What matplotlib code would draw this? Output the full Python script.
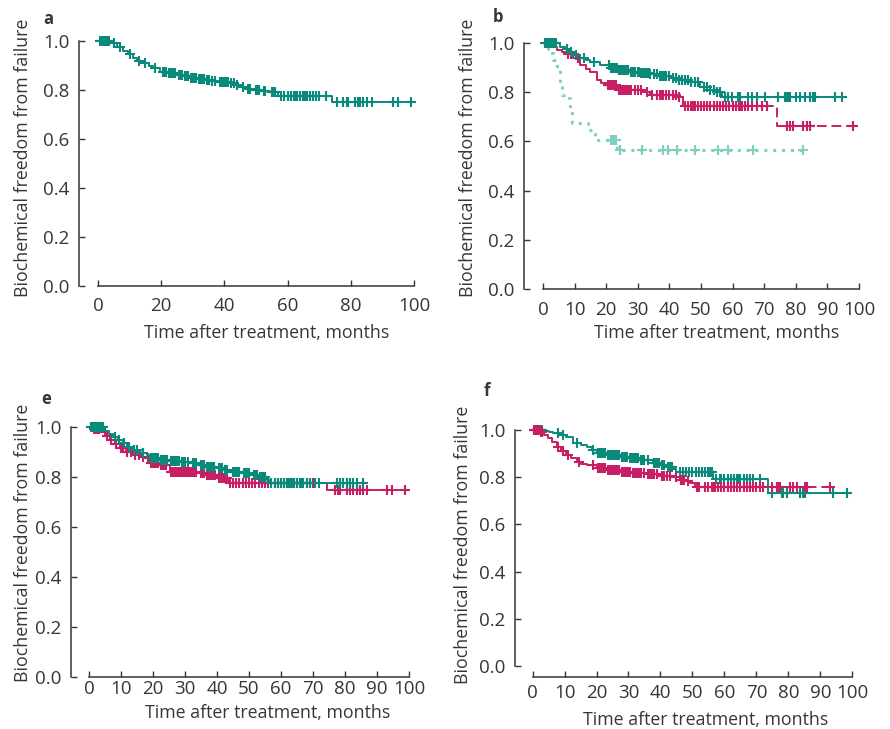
import numpy as np
import matplotlib
matplotlib.use("Agg")
import matplotlib.pyplot as plt

plt.rcParams['font.family'] = ['Open Sans', 'DejaVu Sans']

TEAL = '#0a8a7a'
MAG = '#c81e64'
LTEAL = '#7fd0c0'
TXT = '#363636'

# ---------------- data ----------------
# panel a : single curve
a_t = [4.3, 6, 8, 9.5, 11, 12.5, 14.3, 16, 17.5, 19.6, 22, 25, 27, 29, 31.5, 34, 35.5,
       38, 41.8, 43.5, 45, 47, 49, 52, 54.4, 57, 74.2]
a_s = [0.99, 0.975, 0.96, 0.945, 0.932, 0.92, 0.91, 0.90, 0.889, 0.875, 0.868, 0.862,
       0.856, 0.85, 0.845, 0.84, 0.835, 0.832, 0.828, 0.82, 0.812, 0.806, 0.80, 0.795,
       0.79, 0.777, 0.752]
a_end = 99.2
a_cens = [0.5, 1, 1.5, 2, 2.5, 3, 3.5, 5, 7, 10, 13, 15, 18, 20.5, 21, 21.5, 22.5, 23,
          23.5, 24, 24.5, 25.5, 26, 26.5, 27.5, 28, 28.5, 29.5, 30, 30.5, 31, 32, 32.5,
          33, 33.5, 34.5, 35, 36, 37, 38.5, 39, 39.5, 40, 40.5, 41, 42, 43, 44, 46,
          47.5, 48, 50, 50.5, 51, 52.5, 53, 55, 55.5, 56, 58, 59, 60, 61, 62, 62.5, 63,
          64, 65, 65.5, 66, 67, 68, 69, 70, 72, 75.5, 77.6, 78.7, 79, 81.3, 82.4, 83,
          84, 85, 86.6, 93.5, 95, 99.2]

# panel b : three curves
b_teal_t = [5.4, 7, 8.5, 10, 11.7, 13.5, 15, 18, 21.2, 24, 27.5, 31, 34, 37, 40.2, 43,
            46.5, 49.7, 52.8, 55, 56.5]
b_teal_s = [0.985, 0.975, 0.965, 0.95, 0.938, 0.93, 0.924, 0.91, 0.90, 0.892, 0.883,
            0.878, 0.873, 0.865, 0.857, 0.85, 0.843, 0.822, 0.809, 0.80, 0.78]
b_teal_end = 94.5
b_teal_cens = [0.5, 1, 1.5, 2, 2.5, 3, 3.5, 4, 7.5, 9, 10.5, 13, 16, 21, 21.5, 22, 22.5,
               23, 23.5, 24, 24.5, 25, 25.5, 26, 26.5, 27, 28, 28.5, 29, 30, 30.5, 31,
               31.5, 32, 32.5, 33, 33.5, 34, 35, 36, 37, 37.5, 38, 38.5, 39, 40, 41, 42,
               43, 44, 45, 46, 47, 48, 49, 51, 52, 53, 54, 55, 56, 57.6, 58.6, 59.7,
               61.8, 62.3, 64.9, 66, 67.6, 70.2, 74.4, 76.5, 77.1, 77.6, 78.1, 80.2,
               81.3, 82.9, 84.5, 85.5, 86.1, 92.4, 94.5]

b_mag_t = [2.5, 4.3, 6, 7.5, 9.6, 11.7, 13.5, 14.9, 17, 18.5, 20.2, 23.3, 31.7, 33.9,
           42.3, 44.4, 74]
b_mag_s = [0.985, 0.972, 0.962, 0.955, 0.938, 0.911, 0.895, 0.883, 0.85, 0.838, 0.829,
           0.809, 0.802, 0.789, 0.782, 0.744, 0.663]
b_mag_end = 98.7
b_mag_cens = [8, 9, 11, 20.5, 21, 21.5, 22, 22.5, 23, 24, 24.5, 25, 25.5, 26, 26.5, 27,
              27.5, 28, 29, 30, 31, 33, 34.5, 36, 37, 37.5, 38, 39, 40, 41, 42, 43, 45,
              46, 47, 47.5, 48, 49, 50, 51, 52, 53, 54, 55, 56, 57, 58, 59, 60, 61, 62,
              62.5, 63, 64, 65, 66, 67.6, 69.2, 70.8, 77.1, 78.1, 79.2, 82.3, 83.4,
              84.5, 98.2]

b_lt_t = [1.7, 2.2, 3.3, 4.3, 5.4, 5.9, 7.5, 8.5, 9.1, 14.3, 16.5, 23.5]
b_lt_s = [0.97, 0.96, 0.93, 0.89, 0.83, 0.79, 0.775, 0.714, 0.675, 0.646, 0.606, 0.565]
b_lt_end = 83.4
b_lt_cens = [21.5, 22, 22.5, 23, 24.4, 31.2, 38.1, 39.7, 42.3, 48.1, 55.5, 58.6, 66.5,
             82.4]

# panel e : two curves
e_teal_t = [5, 6.3, 7.6, 9, 10.7, 12, 13.8, 16, 18, 19, 22, 25, 28.4, 32, 34, 36.8, 40,
            42, 44, 48, 51.3, 53, 55.5, 56.6]
e_teal_s = [0.985, 0.972, 0.961, 0.948, 0.935, 0.922, 0.91, 0.898, 0.888, 0.875, 0.87,
            0.866, 0.861, 0.855, 0.848, 0.841, 0.835, 0.828, 0.821, 0.815, 0.808, 0.80,
            0.788, 0.776]
e_teal_end = 86
e_teal_cens = [0.5, 1, 1.5, 2, 2.5, 3, 3.5, 4, 4.5, 8, 9.5, 11, 12.5, 14, 15, 17, 19.5,
               20, 20.5, 21, 21.5, 22.5, 23, 23.5, 24, 24.5, 25.5, 26, 26.5, 27, 27.5,
               28, 29, 29.5, 30, 31, 32.5, 33, 33.5, 35, 35.5, 36, 37, 37.5, 38, 38.5,
               39, 40.5, 41, 41.5, 42.5, 43, 45, 45.5, 46, 46.5, 47, 48.5, 49, 49.5, 50,
               51.5, 52, 52.5, 53.5, 54, 54.5, 55, 57, 58, 59, 60, 61, 62, 62.5, 63,
               63.5, 64, 65, 66, 66.5, 67, 68, 69, 70.5, 72, 77.4, 78.4, 79.5, 80.5,
               81.6, 82.6, 83.6, 85.7]

e_mag_t = [1, 3.4, 5, 6.6, 8, 9.7, 11.5, 13.8, 16, 18, 19, 22, 24.3, 25.3, 34, 36.8, 40,
           43.5, 74.3]
e_mag_s = [0.993, 0.981, 0.965, 0.948, 0.932, 0.915, 0.90, 0.888, 0.882, 0.875, 0.855,
           0.85, 0.848, 0.821, 0.815, 0.808, 0.795, 0.775, 0.748]
e_mag_end = 99.3
e_mag_cens = [0.5, 1.5, 2, 2.5, 3, 5.5, 7, 8.5, 10, 10.5, 12, 13, 14.5, 15.5, 17, 18.5,
              19.5, 20, 20.5, 21, 21.5, 22.5, 23, 23.5, 24, 25.5, 26, 26.5, 27, 27.5,
              28, 28.5, 29, 29.5, 30, 30.5, 31, 31.5, 32, 32.5, 33, 33.5, 35, 35.5, 36,
              37, 37.5, 38, 38.5, 39, 39.5, 40.5, 41, 41.5, 42, 42.5, 43, 44, 45, 46,
              47, 48, 49, 50, 51, 52, 53, 54, 55, 56, 58, 59, 60, 61, 62, 63, 64, 65,
              66, 67, 68, 69, 70, 76.9, 77.9, 78.4, 80.5, 81.6, 82.6, 83.6, 84.7, 85.7,
              86.8, 93, 94.6, 98.8]

# panel f : two curves
f_teal_t = [3.3, 5, 6.4, 8.5, 10.6, 12.7, 15, 16.9, 18.5, 20, 23, 27.3, 30, 33.6, 37.7,
            40, 42, 44, 45, 56.5, 73.7]
f_teal_s = [0.995, 0.99, 0.989, 0.98, 0.972, 0.946, 0.937, 0.929, 0.915, 0.904, 0.896,
            0.887, 0.88, 0.873, 0.859, 0.85, 0.842, 0.833, 0.824, 0.791, 0.732]
f_teal_end = 98.7
f_teal_cens = [0.5, 1, 1.5, 2, 2.5, 3, 8, 9.5, 14, 19, 20.5, 21, 21.5, 22, 22.5, 23.5,
               24, 24.5, 25, 25.5, 26, 26.5, 27, 28, 28.5, 29, 29.5, 30.5, 31, 31.5, 32,
               32.5, 33, 34, 34.5, 35, 36, 38, 38.5, 39, 39.5, 40.5, 41, 42.5, 43, 43.5,
               46, 47, 48, 49, 50, 51, 52, 53, 54, 55, 55.5, 56, 57.5, 58.5, 59, 60, 61,
               62, 63, 64, 64.5, 65, 66, 67, 68, 69, 71, 74.8, 77.9, 78.4, 79.5, 83.6,
               84.7, 85.2, 94.1, 98.2]

f_mag_t = [2.5, 3.5, 4.9, 6, 7.5, 9, 10.6, 12, 13.8, 15, 16.9, 20, 23, 27.3, 31, 35.7,
           40, 44, 46.1, 48, 49.2, 50.8]
f_mag_s = [0.99, 0.98, 0.965, 0.95, 0.929, 0.912, 0.894, 0.88, 0.866, 0.858, 0.852,
           0.838, 0.83, 0.823, 0.818, 0.812, 0.807, 0.802, 0.788, 0.782, 0.774, 0.76]
f_mag_end = 93
f_mag_cens = [0.5, 1, 1.5, 2, 2.5, 3, 8, 9.5, 11, 14.5, 19, 20.5, 21, 21.5, 22, 22.5,
              23.5, 24, 24.5, 25, 25.5, 26, 26.5, 27, 28, 28.5, 29, 29.5, 30, 30.5,
              31.5, 32, 32.5, 33, 33.5, 34, 35, 36, 36.5, 37, 37.5, 38, 39, 40.5, 41,
              42, 43, 45, 46.5, 47, 47.5, 48.5, 51.5, 52, 54, 55, 56, 56.5, 57, 58, 59,
              60, 61, 62, 63, 64, 65, 66, 67, 68, 69, 70, 71, 72, 74.8, 76.4, 77, 77.5,
              80.6, 81.5, 82.7, 85.2, 85.7, 93]

YTICKS = [0.0, 0.2, 0.4, 0.6, 0.8, 1.0]
XTICKS_A = [0, 20, 40, 60, 80, 100]
XTICKS_B = [0, 10, 20, 30, 40, 50, 60, 70, 80, 90, 100]
YLABEL = 'Biochemical freedom from failure'
XLABEL = 'Time after treatment, months'

# ---------------- drawing ----------------
W, H = 890, 729
fig = plt.figure(figsize=(W / 100, H / 100), dpi=100)


def ax_px(left, right, bottom, top):
    return fig.add_axes([left / W, 1 - bottom / H, (right - left) / W, (bottom - top) / H])


def step_val(t_ev, s_ev, t):
    idx = np.searchsorted(np.asarray(t_ev), np.asarray(t), side='right')
    return np.asarray([1.0] + list(s_ev))[idx]


def km(ax, t_ev, s_ev, end, cens, color, lw=1.4, dotted=False, dash_from=None,
       dashes=(5, 2.5)):
    xs = np.array([0.0] + list(t_ev) + [end])
    ys = np.array([1.0] + list(s_ev) + [s_ev[-1]])
    if dotted:
        ax.plot(xs, ys, drawstyle='steps-post', color=color, lw=2.2,
                dashes=(1.0, 1.9), dash_capstyle='butt', clip_on=False)
    elif dash_from is None:
        ax.plot(xs, ys, drawstyle='steps-post', color=color, lw=lw, clip_on=False)
    else:
        v = step_val(t_ev, s_ev, dash_from)
        m = xs < dash_from
        x1 = np.append(xs[m], dash_from)
        y1 = np.append(ys[m], v)
        ax.plot(x1, y1, drawstyle='steps-post', color=color, lw=lw, clip_on=False)
        m2 = xs > dash_from
        x2 = np.insert(xs[m2], 0, dash_from)
        y2 = np.insert(ys[m2], 0, v)
        ax.plot(x2, y2, drawstyle='steps-post', color=color, lw=lw,
                dashes=dashes, clip_on=False)
    cy = step_val(t_ev, s_ev, cens)
    ax.plot(cens, cy, ls='none', marker='+', ms=7, mew=1.5, color=color, clip_on=False)


def style(ax, xticks, xmin, xpad, outward=0):
    for s in ['top', 'right']:
        ax.spines[s].set_visible(False)
    for s in ['left', 'bottom']:
        ax.spines[s].set_color(TXT)
        ax.spines[s].set_linewidth(1.1)
    ax.spines['left'].set_bounds(0, 1)
    ax.spines['bottom'].set_bounds(0, 100)
    if outward:
        ax.spines['bottom'].set_position(('outward', outward))
    ax.set_xlim(xmin, 101)
    ax.set_ylim(0, 1.01)
    ax.set_yticks(YTICKS)
    ax.set_yticklabels(['%.1f' % v for v in YTICKS])
    ax.set_xticks(xticks)
    ax.set_xticklabels([str(v) for v in xticks])
    ax.tick_params(direction='in', length=4, width=1.0, color=TXT,
                   labelsize=13.5, labelcolor=TXT)
    ax.tick_params(axis='y', pad=7)
    ax.tick_params(axis='x', pad=xpad)
    ax.patch.set_alpha(0)


# panel a
axa = ax_px(79, 98 + 101 * 3.16, 286, 286 - 1.01 * 245)
km(axa, a_t, a_s, a_end, a_cens, TEAL)
style(axa, XTICKS_A, -6, 8)

# panel b
axb = ax_px(524, 543 + 101 * 3.16, 289, 289 - 1.01 * 246)
km(axb, b_lt_t, b_lt_s, b_lt_end, b_lt_cens, LTEAL, dotted=True)
km(axb, b_mag_t, b_mag_s, b_mag_end, b_mag_cens, MAG, dash_from=70)
km(axb, b_teal_t, b_teal_s, b_teal_end, b_teal_cens, TEAL)
style(axb, XTICKS_B, -6, 9)

# panel e
axe = ax_px(71, 89 + 101 * 3.2, 677, 677 - 1.01 * 250)
km(axe, e_mag_t, e_mag_s, e_mag_end, e_mag_cens, MAG)
km(axe, e_teal_t, e_teal_s, e_teal_end, e_teal_cens, TEAL)
style(axe, XTICKS_B, -5.6, 2.5)

# panel f
axf = ax_px(515, 532.7 + 101 * 3.196, 666, 666 - 1.01 * 236)
km(axf, f_teal_t, f_teal_s, f_teal_end, f_teal_cens, TEAL)
km(axf, f_mag_t, f_mag_s, f_mag_end, f_mag_cens, MAG, dash_from=72)
style(axf, XTICKS_B, -5.5, 5, outward=8)

# labels (positions in pixels)
def ftxt(x, y, s, **kw):
    fig.text(x / W, 1 - y / H, s, color=TXT, **kw)

for (x, y) in [(23, 158), (468, 158), (23, 543), (463, 545)]:
    ftxt(x, y, YLABEL, rotation=90, ha='center', va='center', fontsize=12.8)
for (x, y) in [(267, 333), (717, 333), (268, 713), (706, 720)]:
    ftxt(x, y, XLABEL, ha='center', va='center', fontsize=12.8)
for (x, y, s) in [(48, 19, 'a'), (498, 17, 'b'), (46, 399, 'e'), (487, 391, 'f')]:
    ftxt(x, y, s, ha='center', va='center', fontsize=12, fontweight='bold')

fig.savefig('out.png', dpi=100)
